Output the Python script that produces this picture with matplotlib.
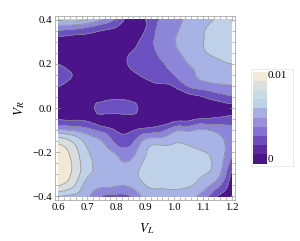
import numpy as np
import matplotlib
matplotlib.use("Agg")
import matplotlib.pyplot as plt
import matplotlib.tri as mtri
from matplotlib.colors import ListedColormap, BoundaryNorm
from matplotlib.ticker import MultipleLocator

# ---- data (values in units of 1e-3) ----
v_l = [0.6, 0.65, 0.7, 0.75, 0.8, 0.85, 0.9, 0.95, 1.0, 1.05, 1.1, 1.15, 1.2]
v_r = [0.4, 0.35, 0.3, 0.25, 0.2, 0.15, 0.1, 0.05, 0.0, -0.05, -0.1, -0.15,
       -0.2, -0.25, -0.3, -0.35, -0.4]
z_rows = [
    [5.8, 6.1, 5.6, 4.1, 2.2, 0.4, 0.8, 2.5, 3.45, 4.3, 5.0, 5.65, 6.0],   # 0.40
    [2.4, 2.1, 1.6, 1.0, 0.6, 0.3, 1.0, 2.9, 3.75, 4.6, 5.4, 6.0, 6.3],    # 0.35
    [0.2, 0.2, 0.3, 0.3, 0.2, 0.4, 1.6, 3.0, 3.9, 4.7, 5.45, 6.1, 6.5],    # 0.30
    [0.3, 0.2, 0.2, 0.2, 0.2, 1.0, 1.8, 2.7, 3.6, 4.5, 5.3, 5.9, 6.3],     # 0.25
    [0.85, 0.3, 0.2, 0.2, 0.2, 1.25, 1.8, 2.3, 3.0, 4.0, 4.6, 5.1, 5.5],   # 0.20
    [1.8, 0.95, 0.2, 0.2, 0.2, 0.6, 1.3, 1.9, 2.5, 3.6, 4.3, 4.7, 4.95],   # 0.15
    [1.05, 0.4, 0.3, 0.3, 0.15, 0.2, 0.4, 0.75, 1.1, 2.6, 3.3, 3.7, 3.9],  # 0.10
    [0.4, 0.3, 0.4, 0.4, 0.5, 0.4, 0.2, 0.2, 0.3, 0.5, 0.95, 1.7, 2.3],    # 0.05
    [0.3, 0.4, 0.6, 1.5, 1.9, 1.6, 0.5, 0.2, 0.2, 0.2, 0.2, 0.3, 0.5],     # 0.00
    [0.9, 0.8, 0.7, 0.4, 0.2, 0.3, 0.3, 0.35, 0.45, 0.6, 1.1, 1.3, 1.6],   # -0.05
    [4.3, 3.8, 3.0, 2.0, 0.9, 0.8, 1.5, 1.9, 3.5, 3.7, 4.2, 3.6, 3.0],     # -0.10
    [8.0, 6.8, 5.0, 4.0, 2.0, 1.9, 4.4, 4.9, 5.3, 5.2, 4.9, 4.4, 3.5],     # -0.15
    [9.3, 7.9, 5.7, 4.8, 3.7, 3.3, 5.3, 5.8, 6.1, 6.0, 5.6, 4.85, 3.1],    # -0.20
    [9.6, 8.3, 6.0, 5.1, 4.4, 4.3, 5.8, 6.25, 6.45, 6.35, 5.85, 5.0, 1.8], # -0.25
    [9.4, 8.2, 5.8, 5.0, 4.5, 5.0, 5.9, 6.3, 6.45, 6.3, 5.6, 4.6, 0.7],    # -0.30
    [8.6, 7.3, 4.8, 4.3, 4.1, 4.3, 5.45, 5.8, 5.95, 5.7, 4.7, 3.0, 0.2],   # -0.35
    [5.5, 5.0, 4.3, 2.4, 1.9, 2.4, 4.4, 4.7, 4.6, 4.2, 3.4, 0.9, 0.1],     # -0.40
]
plot_levels = [0, 1, 2.5, 4, 5.5, 7, 8.5, 10]
plot_colors = ["#4B148A", "#6B50C2", "#8D85DA", "#A8B3E5", "#BFD0E9",
               "#D8DEDF", "#F2E8D6"]
legend_colors = ["#4B1489", "#5B2A9E", "#6C4CBC", "#8670D4", "#9A8FDC",
                 "#A8AEE2", "#BCD2E8", "#C9DBE3", "#DCDFDC", "#F2E9D8"]
legend_labels = ["0", "0.01"]
x_ticks = [0.6, 0.7, 0.8, 0.9, 1.0, 1.1, 1.2]
y_ticks = [-0.4, -0.2, 0.0, 0.2, 0.4]

plt.rcParams["mathtext.fontset"] = "stix"
serif = ["Liberation Serif", "DejaVu Serif"]

fig = plt.figure(figsize=(3.0, 2.41), dpi=100)
ax = fig.add_axes([55 / 300, 1 - 200 / 241, 180 / 300, 184 / 241])

X, Y = np.meshgrid(np.array(v_l), np.array(v_r))
Z = np.array(z_rows) * 1e-3
lev = np.array(plot_levels) * 1e-3

# smooth rendering of the grid through matplotlib's own triangulation tools
tri = mtri.Triangulation(X.ravel(), Y.ravel())
refiner = mtri.UniformTriRefiner(tri)
interp = mtri.CubicTriInterpolator(tri, Z.ravel(), kind="min_E")
tri_f, z_f = refiner.refine_field(Z.ravel(), triinterpolator=interp, subdiv=3)
z_f = np.clip(z_f, 1e-6, 0.01 - 1e-6)

ax.tricontourf(tri_f, z_f, levels=lev, colors=plot_colors)
ax.tricontour(tri_f, z_f, levels=lev[1:-1], colors="#8a8a8a", linewidths=0.5)

ax.set_xlim(0.588, 1.212)
ax.set_ylim(-0.416, 0.416)
ax.set_xticks(x_ticks)
ax.set_yticks(y_ticks)
ax.set_xticklabels([f"{t:.1f}" for t in x_ticks], family=serif, fontsize=7.8)
ax.set_yticklabels([f"{t:.1f}".replace("-", "\u2212") for t in y_ticks],
                   family=serif, fontsize=7.8)
ax.xaxis.set_minor_locator(MultipleLocator(0.02))
ax.yaxis.set_minor_locator(MultipleLocator(0.05))
ax.tick_params(which="both", direction="in", top=True, right=True,
               color="#9a9a9a", width=0.5, pad=2)
ax.tick_params(which="major", length=3.5)
ax.tick_params(which="minor", length=2)
for s in ax.spines.values():
    s.set_color("#a8a8a8")
    s.set_linewidth(0.6)

fig.text(147 / 300, 1 - 229 / 241, r"$V_L$", ha="center", va="center",
         fontsize=9.5)
fig.text(20 / 300, 1 - 108 / 241, r"$V_R$", ha="center", va="center",
         fontsize=9.5, rotation=90)

# legend bar
box = fig.add_axes([251 / 300, 1 - 166 / 241, 42 / 300, 97 / 241])
box.set_xticks([])
box.set_yticks([])
for s in box.spines.values():
    s.set_color("#e6e6e6")
    s.set_linewidth(0.6)

cax = fig.add_axes([253 / 300, 1 - 163.5 / 241, 14 / 300, 92 / 241])
n = len(legend_colors)
bounds = np.linspace(0, 0.01, n + 1)
cax.pcolormesh([0, 1], bounds, np.arange(n).reshape(-1, 1),
               cmap=ListedColormap(legend_colors),
               norm=BoundaryNorm(np.arange(n + 1) - 0.5, n), shading="flat")
cax.set_xlim(0, 1)
cax.set_ylim(0, 0.01)
cax.axis("off")
fig.text(268 / 300, 1 - 76 / 241, legend_labels[1], ha="left", va="center",
         family=serif, fontsize=8)
fig.text(268 / 300, 1 - 160 / 241, legend_labels[0], ha="left", va="center",
         family=serif, fontsize=8)

fig.savefig("out.png", dpi=100)
